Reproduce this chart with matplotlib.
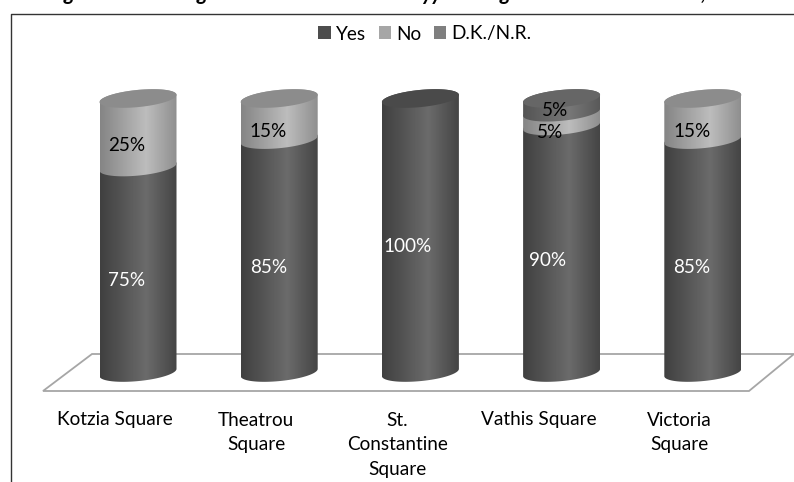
import numpy as np
import matplotlib
matplotlib.use("Agg")
import matplotlib.pyplot as plt
from matplotlib.patches import Polygon, Patch

plt.rcParams['font.family'] = ['Lato', 'DejaVu Sans']

squares = ["Kotzia Square", "Theatrou\nSquare", "St.\nConstantine\nSquare", "Vathis Square", "Victoria\nSquare"]
yes = [75, 85, 100, 90, 85]
no = [25, 15, 0, 5, 15]
dk = [0, 0, 0, 5, 0]
series_names = ["Yes", "No", "D.K./N.R."]

W, H = 794, 482
# pixel scale of the axes
X0, DX = 138.0, 141.2
Y0, DY = 372.5, 2.74

def px(x, y):
    return (x - X0) / DX, (Y0 - y) / DY

# side colours: edge left, light band, edge right ; top face colour
styles = [((0.25, 0.42, 0.27), "#4a4a4a", "#4d4d4d"),
          ((0.52, 0.74, 0.56), "#8c8c8c", "#a6a6a6"),
          ((0.33, 0.47, 0.35), "#666666", "#7f7f7f")]

fig = plt.figure(figsize=(W / 100, H / 100), dpi=100)
ax = fig.add_axes([0, 0, 1, 1])
ax.axis("off")
xlim = (px(0, 0)[0], px(W, 0)[0])
ylim = (px(0, H)[1], px(0, 0)[1])

# frame, only left and top are in the picture
ax.plot(*zip(px(10.5, H), px(10.5, 13.5), px(W, 13.5)), color="#333333", lw=1.0, zorder=1)
# floor
floor = [px(43, 391), px(749, 391), px(794, 354), px(92, 354)]
ax.add_patch(Polygon(floor, closed=True, fill=False, edgecolor="#a6a6a6", lw=1.3, zorder=1))

half_w = 38.5 / DX
semi_b = 8.6 / DY
shear = 3.6 / DY

def arc(cx, level, t):
    return np.column_stack([cx + half_w * np.cos(t), level + semi_b * np.sin(t) + shear * np.cos(t)])

z = 2
for i in range(len(squares)):
    bottom = 0
    for vals, (side, top_col, _) in zip([yes, no, dk], styles):
        v = vals[i]
        if v == 0:
            continue
        top = bottom + v
        front = arc(i, bottom, np.linspace(0, -np.pi, 60))
        back = arc(i, top, np.linspace(np.pi, 0, 60))
        shape = Polygon(np.vstack([front, back]), closed=True, transform=ax.transData, facecolor="none", edgecolor="none")
        ax.add_patch(shape)
        t = np.linspace(0, 1, 200)
        grad = np.interp(t, [0, 0.6, 1], side)[None, :]
        im = ax.imshow(grad, cmap="gray", vmin=0, vmax=1, aspect="auto", zorder=z,
                       extent=(i - half_w, i + half_w, bottom - 10, top + 10))
        im.set_clip_path(shape)
        z += 1
        last_col = top_col
        bottom = top
    ax.add_patch(Polygon(arc(i, bottom, np.linspace(0, 2 * np.pi, 100)), closed=True,
                         facecolor=last_col, edgecolor="none", zorder=z))
    z += 1

# labels, offsets in pixels from the middle of the segment
lab_z = z + 1
def put_label(i, mid, v, col, dx=-11, dy=-10):
    ax.annotate("%d%%" % v, xy=(i, mid), xytext=(dx * 0.72, dy * 0.72), textcoords="offset points",
                ha="center", va="center", color=col, fontsize=13.6, zorder=lab_z)

yes_dx = [-11, -11, -13, -14, -11]
for i in range(len(squares)):
    put_label(i, yes[i] / 2, yes[i], "white", dx=yes_dx[i], dy=-11)
    if no[i] > 0:
        put_label(i, yes[i] + no[i] / 2, no[i], "black", dx=-12 if dk[i] else -11, dy=-13 if dk[i] else -12.5)
    if dk[i] > 0:
        put_label(i, yes[i] + no[i] + dk[i] / 2, dk[i], "black", dx=-6.5, dy=-5)

# category labels
for i, name in enumerate(squares):
    ax.annotate(name, xy=(i, 0), xytext=(-23 * 0.72, -(411.5 - Y0) * 0.72), textcoords="offset points",
                ha="center", va="top", fontsize=13.7, linespacing=1.55, color="black")

handles = [Patch(facecolor=s[2], edgecolor="none", label=n) for s, n in zip(styles, series_names)]
ax.legend(handles=handles, ncol=3, loc="center", bbox_to_anchor=(425 / W, 1 - 34 / H), frameon=False,
          fontsize=13.7, handlelength=0.65, handleheight=0.65, handletextpad=0.28, columnspacing=0.66,
          borderpad=0, borderaxespad=0)

# the title is cut off by the page edge, only these descenders show
for ch, x in [("g", 69), ("g", 202), ("yy", 432), ("g", 505), (",", 703)]:
    fig.text(x / W, 1 + 0.5 / H, ch, ha="center", va="baseline", fontsize=15, fontweight="bold",
             fontstyle="italic", color="black")

ax.set_xlim(xlim)
ax.set_ylim(ylim)
fig.savefig("out.png", dpi=100, facecolor="white")
